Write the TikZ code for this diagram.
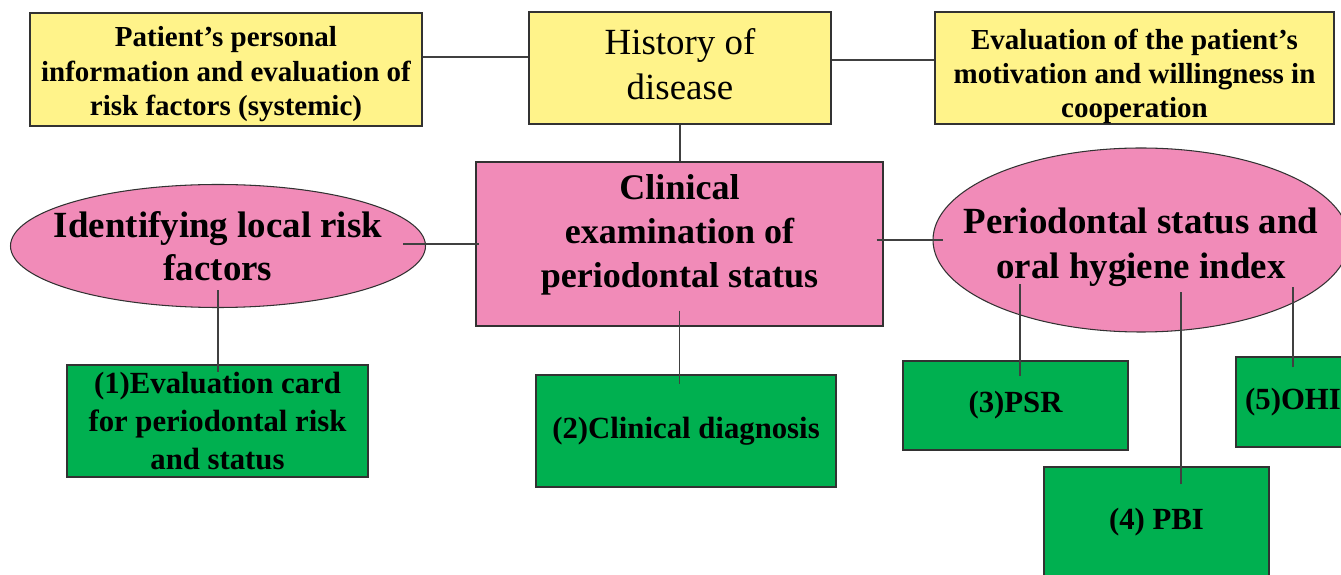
\documentclass[tikz,border=0pt]{standalone}
\usepackage{fontspec}
\setmainfont{Liberation Serif}
\usetikzlibrary{shapes.geometric,calc}
\definecolor{boxyellow}{RGB}{255,243,138}
\definecolor{boxpink}{RGB}{241,139,184}
\definecolor{boxgreen}{RGB}{0,176,80}
\definecolor{edgegray}{RGB}{50,50,50}
\definecolor{linkgray}{RGB}{64,64,64}

\begin{document}
\begin{tikzpicture}[
  yel/.style={draw=edgegray,line width=0.6pt,fill=boxyellow,inner sep=0pt},
  yeltxt/.style={align=center,inner sep=0pt,font=\fontsize{16.5}{19.6}\selectfont\bfseries},
  pnk/.style={draw=edgegray,line width=0.6pt,fill=boxpink,inner sep=0pt},
  ell/.style={ellipse,draw=edgegray,line width=0.6pt,fill=boxpink,inner sep=0pt},
  pnktxt/.style={align=center,inner sep=0pt,font=\fontsize{21}{24.5}\selectfont\bfseries},
  grn/.style={draw=edgegray,line width=0.6pt,fill=boxgreen,align=center,inner sep=2pt,font=\fontsize{17.5}{21.5}\selectfont\bfseries},
  link/.style={draw=linkgray,line width=0.8pt}]
\useasboundingbox (0,0) rectangle (26.82,-11.5);
% top row
\node[yel,minimum width=7.84cm,minimum height=2.26cm] (info) at (4.52,-1.39) {};
\node[yeltxt] (infolbl) at ([yshift=-0.1cm]info) {Patient’s personal\\ information and evaluation of\\ risk factors (systemic)};
\node[yel,minimum width=6.04cm,minimum height=2.24cm] (history) at (13.6,-1.36) {};
\node[yeltxt,font=\fontsize{21}{25.5}\selectfont] (historylbl) at ([yshift=0.08cm]history) {History of\\ disease};
\node[yel,minimum width=7.98cm,minimum height=2.24cm] (motiv) at (22.69,-1.36) {};
\node[yeltxt,font=\fontsize{16.5}{19.2}\selectfont\bfseries] (motivlbl) at ([yshift=-0.17cm]motiv) {Evaluation of the patient’s\\ motivation and willingness in\\ cooperation};
% middle row
\node[pnk,minimum width=8.14cm,minimum height=3.28cm] (exam) at (13.59,-4.88) {};
\node[pnktxt,font=\fontsize{20.5}{25}\selectfont\bfseries] (examlbl) at ([yshift=0.18cm]exam) {Clinical\\ examination of\\ periodontal status};
\node[ell,minimum width=8.3cm,minimum height=2.46cm] (localrisk) at (4.36,-4.92) {};
\node[pnktxt] (localrisklbl) at (localrisk) {Identifying local risk\\ factors};
\node[ell,minimum width=8.32cm,minimum height=3.68cm] (perio) at (22.82,-4.8) {};
\node[pnktxt,font=\fontsize{21}{25.5}\selectfont\bfseries] (periolbl) at ([yshift=-0.15cm]perio) {Periodontal status and\\ oral hygiene index};
% bottom row
\node[grn,minimum width=6.02cm,minimum height=2.24cm] (card) at (4.35,-8.42) {(1)Evaluation card\\ for periodontal risk\\ and status};
\node[grn,minimum width=6cm,minimum height=2.24cm] (diag) at (13.72,-8.62) {(2)Clinical diagnosis};
\node[grn,minimum width=4.5cm,minimum height=1.78cm] (psr) at (20.31,-8.11) {(3)PSR};
\node[grn,minimum width=4.5cm,minimum height=2.2cm] (pbi) at (23.13,-10.44) {(4) PBI};
\node[grn,minimum width=2.28cm,minimum height=1.8cm] (ohi) at (25.86,-8.04) {(5)OHI};
% connectors
\draw[link] ([yshift=2.5mm]info.east) -- ([yshift=2.5mm]info.east -| history.west);
\draw[link] ([yshift=1.6mm]history.east) -- ([yshift=1.6mm]history.east -| motiv.west);
\draw[link] (history.south) -- (history.south |- exam.north);
\draw[link] ([xshift=-4.6mm]exam.west -| localrisk.east) -- ([xshift=0.8mm]exam.west);
\draw[link] ([xshift=-1.4mm]perio.west -| exam.east) -- ([xshift=2.2mm]perio.west);
\draw[link] ([yshift=3.2mm]exam.south) -- ([yshift=-2mm]exam.south |- diag.north);
\draw[link] ([yshift=3.6mm]localrisk.south) -- ([yshift=-1.6mm]localrisk.south |- card.north);
\draw[link] ([shift={(0.09,-0.32)}]psr.north) -- ++(0,1.84);
\draw[link] ([shift={(0.49,-0.36)}]pbi.north) -- ++(0,3.84);
\draw[link] ([yshift=-2.2mm]ohi.north) -- ++(0,1.6);
\end{tikzpicture}
\end{document}
